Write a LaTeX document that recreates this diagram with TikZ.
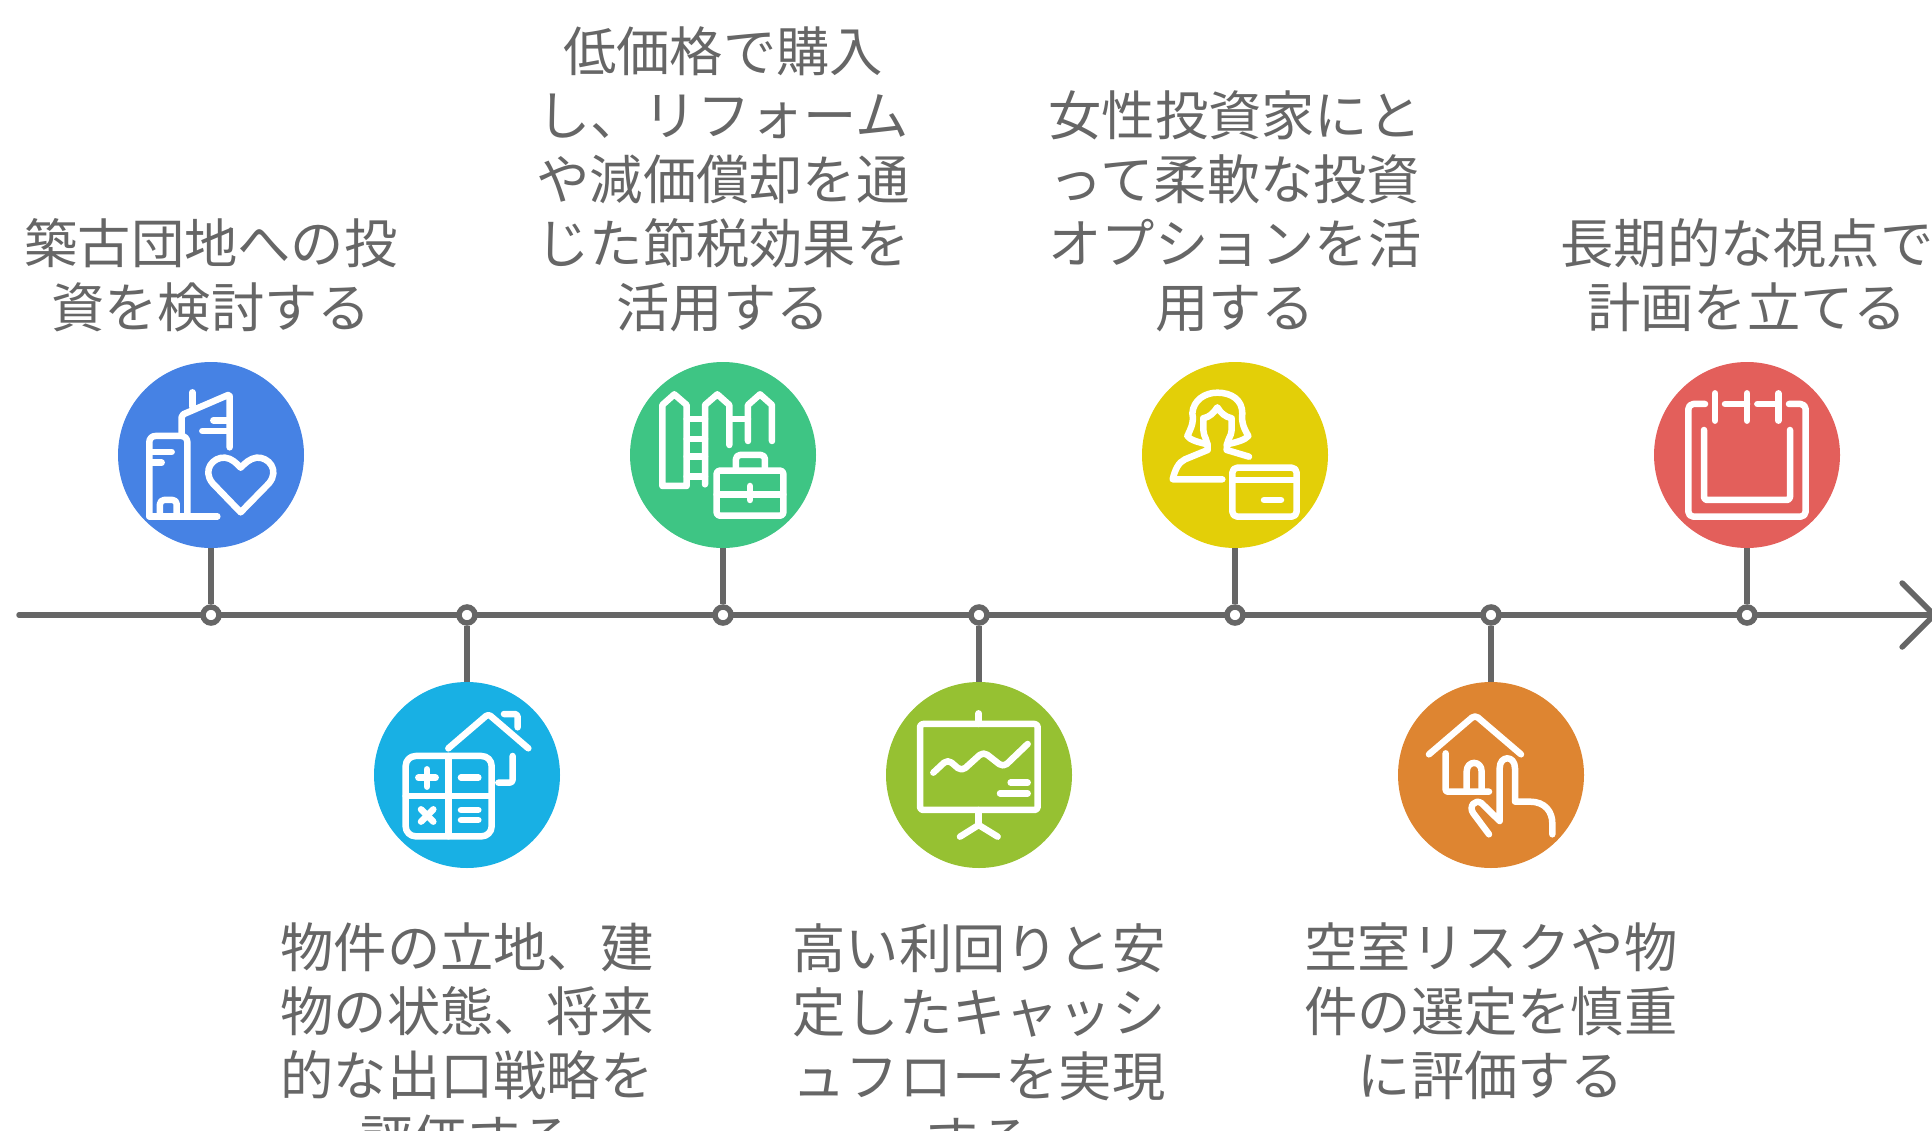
\documentclass[tikz,border=0pt]{standalone}
\usepackage{fontspec}
\usetikzlibrary{arrows.meta}
\newfontfamily\cjk{Noto Sans CJK JP}
\definecolor{axisgray}{HTML}{666666}
\definecolor{textgray}{HTML}{666666}
\definecolor{blue1}{HTML}{4682E4}
\definecolor{sky2}{HTML}{18B0E4}
\definecolor{green3}{HTML}{3EC584}
\definecolor{lime4}{HTML}{96C132}
\definecolor{yellow5}{HTML}{E3CF08}
\definecolor{orange6}{HTML}{DE8531}
\definecolor{red7}{HTML}{E35F5B}
\tikzset{
  icon/.style={white,line width=6.5pt,line cap=round,line join=round},
  label/.style={text=textgray,font=\fontsize{53.3}{64}\selectfont\cjk,align=center,inner sep=0pt},
}
\begin{document}
\begin{tikzpicture}[x=1pt,y=-1pt]

      \useasboundingbox (0,0) rectangle (1932,1131);
      \clip (0,0) rectangle (1932,1131);

      \coordinate (start) at (19,615);
      \coordinate (end) at (1938,615);
      \draw[axisgray,line width=5.5pt,line cap=round,-{Straight Barb[length=32pt,width=64pt,line width=5.5pt,line cap=round]}] (start) -- (end);

      \begin{scope}[every node/.style={circle,draw=axisgray,fill=white,line width=5.5pt,inner sep=0pt,minimum size=16pt}]
        \node (d1) at (211,615) {};
        \node (d2) at (467,615) {};
        \node (d3) at (723,615) {};
        \node (d4) at (979,615) {};
        \node (d5) at (1235,615) {};
        \node (d6) at (1491,615) {};
        \node (d7) at (1747,615) {};
      \end{scope}

      \begin{scope}[every node/.style={circle,inner sep=0pt,minimum size=186pt}]
        \node[fill=blue1] (1) at (211,455) {};
        \node[fill=sky2] (2) at (467,775) {};
        \node[fill=green3] (3) at (723,455) {};
        \node[fill=lime4] (4) at (979,775) {};
        \node[fill=yellow5] (5) at (1235,455) {};
        \node[fill=orange6] (6) at (1491,775) {};
        \node[fill=red7] (7) at (1747,455) {};
      \end{scope}

      \begin{scope}[every edge/.style={draw=axisgray,line width=5.5pt}]
        \path (1) edge (d1);
        \path (2) edge (d2);
        \path (3) edge (d3);
        \path (4) edge (d4);
        \path (5) edge (d5);
        \path (6) edge (d6);
        \path (7) edge (d7);
      \end{scope}

      \begin{scope}[every node/.style={label,anchor=south}]
        \node (t1) at (211,332) {築古団地への投\\資を検討する};
        \node (t3) at (723,332) {低価格で購入\\し、リフォーム\\や減価償却を通\\じた節税効果を\\活用する};
        \node (t5) at (1235,332) {女性投資家にと\\って柔軟な投資\\オプションを活\\用する};
        \node (t7) at (1747,332) {長期的な視点で\\計画を立てる};
      \end{scope}

      \begin{scope}[every node/.style={label,anchor=north}]
        \node (t2) at (467,923) {物件の立地、建\\物の状態、将来\\的な出口戦略を\\評価する};
        \node (t4) at (979,923) {高い利回りと安\\定したキャッシ\\ュフローを実現\\する};
        \node (t6) at (1491,923) {空室リスクや物\\件の選定を慎重\\に評価する};
      \end{scope}

      % buildings
      \begin{scope}[shift={(110,355)},x=.3333pt,y=-.3333pt,icon]
        \draw[rounded corners=6pt] (118,484) -- (118,243) -- (232,243) -- (232,484);
        \draw (118,484) -- (322,484);
        \draw (125,291) -- (185,291);
        \draw (125,323) -- (155,323);
        \draw[rounded corners=4pt] (150,484) -- (150,435) -- (200,435) -- (200,484);
        \draw[rounded corners=2pt] (215,235) -- (215,180) -- (359,118) -- (359,277);
        \draw (247,112) -- (247,155);
        \draw (310,196) -- (355,196);
        \draw (277,228) -- (355,228);
        \draw (392,472) -- (308,385) .. controls (275,345) and (310,305) .. (345,308) .. controls (365,310) and (380,325) .. (392,338) .. controls (405,325) and (420,310) .. (440,308) .. controls (475,305) and (510,345) .. (477,385) -- cycle;
      \end{scope}

      % calculator and house
      \begin{scope}[shift={(370,675)},x=.3333pt,y=-.3333pt,icon]
        \draw[rounded corners=10pt] (107,243) rectangle (365,484);
        \draw (235,243) -- (235,484);
        \draw (107,363) -- (365,363);
        \draw (145,308) -- (197,308);
        \draw (171,283) -- (171,335);
        \draw (273,308) -- (325,308);
        \draw (153,403) -- (190,440);
        \draw (190,403) -- (153,440);
        \draw (273,405) -- (325,405);
        \draw (273,435) -- (325,435);
        \draw[rounded corners=3pt] (235,220) -- (355,117) -- (475,220);
        \draw[rounded corners=3pt] (402,117) -- (443,117) -- (443,157);
        \draw[rounded corners=3pt] (428,243) -- (428,323) -- (385,323);
      \end{scope}

      % fence and briefcase
      \begin{scope}[shift={(625,355)},x=.3333pt,y=-.3333pt,icon]
        \draw (112,393) -- (112,150) -- (148,118) -- (185,150) -- (185,393) -- cycle;
        \draw (240,388) -- (240,150) -- (277,118) -- (313,150) -- (313,270);
        \draw (369,258) -- (369,150) -- (405,118) -- (441,150) -- (441,258);
        \draw (185,192) -- (240,192);
        \draw (185,252) -- (240,252);
        \draw (185,305) -- (240,305);
        \draw (185,365) -- (240,365);
        \draw (313,192) -- (369,192);
        \draw[rounded corners=3pt] (275,347) rectangle (475,482);
        \draw[rounded corners=4pt] (333,347) -- (333,300) -- (420,300) -- (420,347);
        \draw (275,418) -- (475,418);
        \draw (375,393) -- (375,435);
      \end{scope}

      % presentation board
      \begin{scope}[shift={(880,675)},x=.3333pt,y=-.3333pt,icon]
        \draw[rounded corners=3pt] (120,147) rectangle (473,405);
        \draw (296,115) -- (296,147);
        \draw (296,405) -- (296,450);
        \draw (240,485) -- (296,450) -- (353,485);
        \draw[rounded corners=5pt] (160,293) -- (203,253) -- (245,289) -- (310,230) -- (370,277) -- (443,207);
        \draw (392,323) -- (443,323);
        \draw (360,355) -- (443,355);
      \end{scope}

      % woman and card
      \begin{scope}[shift={(1135,355)},x=.3333pt,y=-.3333pt,icon]
        \draw (218,268) .. controls (190,262) and (165,255) .. (157,243) .. controls (165,225) and (178,205) .. (172,175) .. controls (175,135) and (210,113) .. (247,113) .. controls (290,113) and (322,135) .. (322,175) .. controls (318,205) and (330,225) .. (340,243) .. controls (330,255) and (305,262) .. (275,268);
        \draw (205,190) .. controls (225,185) and (235,175) .. (247,157) .. controls (258,175) and (270,185) .. (290,190) -- (290,225) .. controls (290,245) and (275,250) .. (275,285) -- (342,305);
        \draw (205,190) -- (205,225) .. controls (205,245) and (220,255) .. (218,285) -- (150,313) .. controls (130,322) and (120,345) .. (113,373) -- (262,373);
        \draw[rounded corners=5pt] (292,338) rectangle (485,485);
        \draw (292,375) -- (485,375);
        \draw (387,435) -- (438,435);
      \end{scope}

      % house and finger
      \begin{scope}[shift={(1390,675)},x=.3333pt,y=-.3333pt,icon]
        \draw[rounded corners=4pt] (117,238) -- (255,120) -- (393,238);
        \draw[rounded corners=2pt] (167,235) -- (167,350) -- (297,350);
        \draw (230,345) -- (230,290) .. controls (230,255) and (275,255) .. (275,290) -- (275,345);
        \draw (297,478) -- (250,415) .. controls (235,395) and (255,370) .. (275,385) -- (329,438) -- (329,280) .. controls (329,240) and (375,240) .. (375,280) -- (375,380) -- (420,380) .. controls (465,380) and (487,410) .. (487,445) -- (487,478);
      \end{scope}

      % calendar
      \begin{scope}[shift={(1650,355)},x=.3333pt,y=-.3333pt,icon]
        \draw[rounded corners=5pt] (165,147) -- (115,147) -- (115,485) -- (467,485) -- (467,147) -- (417,147);
        \draw (195,115) -- (195,197);
        \draw (291,115) -- (291,197);
        \draw (385,115) -- (385,197);
        \draw (225,147) -- (291,147);
        \draw (322,147) -- (385,147);
        \draw[rounded corners=3pt] (162,225) -- (162,435) -- (420,435) -- (420,225);
      \end{scope}

    \end{tikzpicture}
\end{document}
